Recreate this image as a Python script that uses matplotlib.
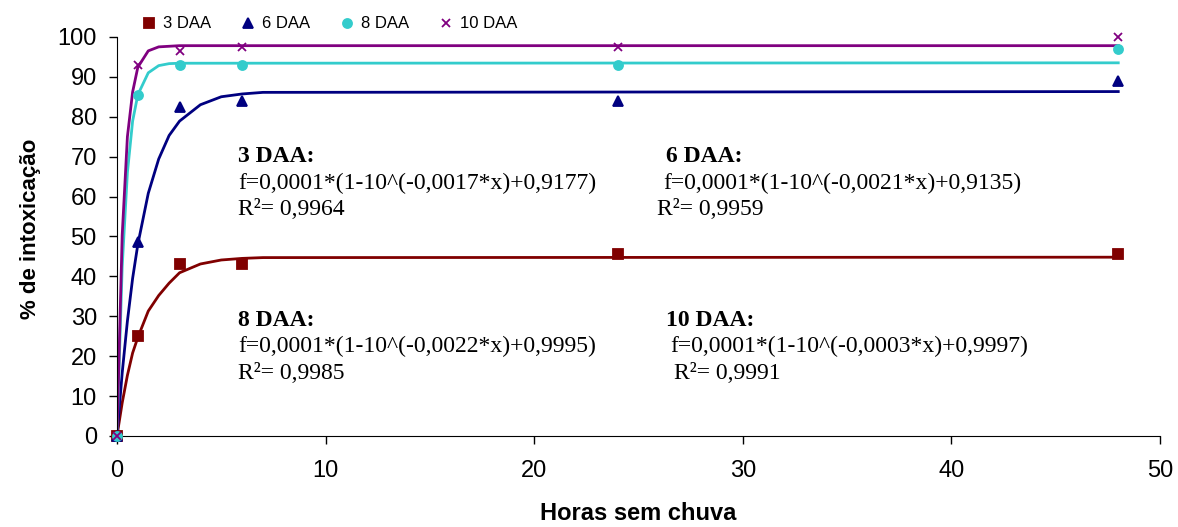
import matplotlib
matplotlib.use("Agg")
import matplotlib.pyplot as plt

# pontos observados (horas sem chuva x % de intoxicacao)
horas = [0, 1, 3, 6, 24, 48]
daa3 = [0, 25, 43, 43, 45.5, 45.5]
daa6 = [0, 48.5, 82.5, 84, 84, 89]
daa8 = [0, 85.5, 93, 93, 93, 97]
daa10 = [0, 93, 96.5, 97.5, 97.5, 100]

# curvas ajustadas
xc3 = [0, 0.25, 0.5, 0.75, 1, 1.5, 2, 2.5, 3, 4, 5, 6, 7, 48]
yc3 = [0, 8.3, 15.2, 20.8, 24.7, 31.3, 35.2, 38.3, 40.9, 43.1, 44.1, 44.5, 44.7, 44.8]
xc6 = [0, 0.25, 0.5, 0.75, 1, 1.5, 2, 2.5, 3, 4, 5, 6, 7, 48]
yc6 = [0, 15.8, 28.8, 39.5, 48.0, 60.8, 69.4, 75.3, 78.9, 83.0, 85.0, 85.7, 86.1, 86.3]
xc8 = [0, 0.25, 0.5, 0.75, 1, 1.5, 2, 2.5, 3, 48]
yc8 = [0, 42.4, 66.0, 78.9, 85.5, 91.0, 92.8, 93.3, 93.4, 93.5]
xc10 = [0, 0.25, 0.5, 0.75, 1, 1.5, 2, 3, 48]
yc10 = [0, 50.3, 75.0, 86.2, 92.4, 96.5, 97.5, 97.8, 97.8]

# equacoes escritas no grafico
equacoes = [
    ("3 DAA:", "f=0,0001*(1-10^(-0,0017*x)+0,9177)", "R²= 0,9964"),
    ("6 DAA:", "f=0,0001*(1-10^(-0,0021*x)+0,9135)", "R²= 0,9959"),
    ("8 DAA:", "f=0,0001*(1-10^(-0,0022*x)+0,9995)", "R²= 0,9985"),
    ("10 DAA:", "f=0,0001*(1-10^(-0,0003*x)+0,9997)", "R²= 0,9991"),
]

plt.rcParams['font.family'] = ['Liberation Sans', 'DejaVu Sans']

fig = plt.figure(figsize=(11.78, 5.27), dpi=100)
ax = fig.add_axes([0.0993, 0.1727, 0.8854, 0.7573])

cores = ['#800000', '#000080', '#33CCCC', '#800080']
marcadores = ['s', '^', 'o', 'x']
nomes = ['3 DAA', '6 DAA', '8 DAA', '10 DAA']
series = [daa3, daa6, daa8, daa10]
curvas = [(xc3, yc3), (xc6, yc6), (xc8, yc8), (xc10, yc10)]

for i in range(4):
    ax.plot(curvas[i][0], curvas[i][1], color=cores[i], lw=2.0, zorder=2)
for i in range(4):
    ms = 6.5 if marcadores[i] != 'x' else 6
    ax.plot(horas, series[i], ls='', marker=marcadores[i], color=cores[i],
            ms=ms, mew=1.3, label=nomes[i], zorder=3, clip_on=False)

ax.set_xlim(0, 50)
ax.set_ylim(0, 100)
ax.set_xticks(range(0, 51, 10))
ax.set_yticks(range(0, 101, 10))
ax.spines['top'].set_visible(False)
ax.spines['right'].set_visible(False)
ax.tick_params(direction='out', labelsize=17, length=5.5, width=1)
ax.tick_params(axis='x', pad=12)
ax.tick_params(axis='y', pad=9)
ax.set_xlabel('Horas sem chuva', fontsize=17, fontweight='bold')
ax.xaxis.label.set_va('center')
ax.xaxis.set_label_coords(0.5, -0.193)
ax.set_ylabel('% de intoxicação', fontsize=16, fontweight='bold')
ax.yaxis.label.set_va('center')
ax.yaxis.set_label_coords(-0.0825, 0.52)

ax.legend(loc='center left', bbox_to_anchor=(0.0166, 1.0326), ncol=4, frameon=False,
          fontsize=12, handletextpad=0.35, columnspacing=1.7, borderaxespad=0.0,
          handlelength=1.0)

# posicoes das equacoes (x do titulo, x da equacao, x do R2, y da primeira linha)
pos = [(5.8, 5.8, 5.8, 70), (26.3, 26.2, 25.9, 70), (5.8, 5.8, 5.8, 29), (26.3, 26.5, 26.7, 29)]
for (t, f, r), (xt, xf, xr, y0) in zip(equacoes, pos):
    ax.text(xt, y0, t, family='Liberation Serif', fontsize=17, fontweight='bold', va='center')
    ax.text(xf, y0 - 6.6, f, family='Liberation Serif', fontsize=17, va='center')
    ax.text(xr, y0 - 13.3, r, family='Liberation Serif', fontsize=17, va='center')

fig.savefig('out.png', dpi=100)
